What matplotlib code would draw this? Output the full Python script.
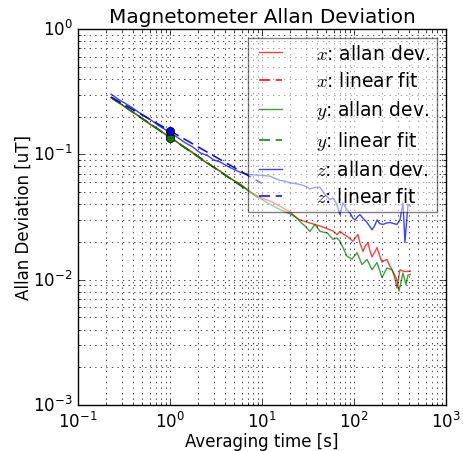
import matplotlib
matplotlib.use("Agg")
import matplotlib.pyplot as plt
import numpy as np

plt.style.use('classic')

# ---- data ----
tau_x = [0.229, 0.28, 0.367, 0.45, 0.607, 0.75, 1.0, 1.2, 1.456, 1.75, 2.12, 2.6,
         3.49, 4.4, 5.77, 7.41, 9.51, 12.2, 15.7, 20.2, 24.0, 25.9, 29, 33.2, 37.7,
         42.7, 48, 54.8, 59, 65.3, 70.4, 75.9, 83.9, 90.5, 97.5, 102.6, 110.5, 116.2,
         125.3, 132, 141.9, 149, 157, 167, 177.9, 190, 201.5, 214, 228.4, 243, 259,
         276, 293, 316, 341, 367, 410]
adev_x = [0.284, 0.258, 0.224, 0.203, 0.173, 0.157, 0.136, 0.125, 0.112, 0.103, 0.093,
          0.084, 0.0735, 0.065, 0.058, 0.0505, 0.0455, 0.0424, 0.0385, 0.0346, 0.031,
          0.030, 0.0292, 0.0283, 0.0275, 0.0268, 0.026, 0.025, 0.0245, 0.0229, 0.0243,
          0.0232, 0.0222, 0.0212, 0.0203, 0.0215, 0.0229, 0.0195, 0.0168, 0.0185,
          0.0197, 0.017, 0.0152, 0.0165, 0.018, 0.0155, 0.0138, 0.0142, 0.0145, 0.013,
          0.012, 0.0105, 0.0086, 0.012, 0.0117, 0.0116, 0.0117]

tau_y = [0.229, 0.28, 0.367, 0.45, 0.607, 0.75, 1.0, 1.2, 1.456, 1.75, 2.12, 2.6,
         3.49, 4.4, 5.77, 7.41, 9.51, 12.2, 15.7, 20.2, 24, 25.9, 29, 33.2, 37.7, 42.7,
         48, 50.9, 59.1, 65, 70.4, 76, 83.9, 95.1, 107.9, 122.2, 138.4, 157, 177.9,
         201.5, 228.4, 259, 293, 308, 341, 367, 386, 410]
adev_y = [0.283, 0.257, 0.225, 0.204, 0.175, 0.158, 0.137, 0.125, 0.113, 0.104, 0.093,
          0.084, 0.0735, 0.065, 0.0575, 0.05, 0.0445, 0.040, 0.0363, 0.0335, 0.031,
          0.029, 0.027, 0.0243, 0.0276, 0.0243, 0.0238, 0.0237, 0.021, 0.0215, 0.0203,
          0.018, 0.0154, 0.0146, 0.0164, 0.0132, 0.0145, 0.012, 0.0137, 0.0104, 0.0124,
          0.012, 0.010, 0.0081, 0.0113, 0.0091, 0.0109, 0.011]

tau_z = [0.229, 0.28, 0.367, 0.45, 0.607, 0.75, 1.0, 1.2, 1.456, 1.75, 2.12, 2.6, 3.0,
         3.49, 4.4, 5.77, 6.5, 7.41, 8.5, 9.51, 11, 12.2, 14, 15.7, 18, 20.2, 23, 25.9,
         30, 33.2, 38, 42.7, 48, 54.8, 59, 65, 70.4, 75.9, 83.9, 90.5, 97, 102.6, 110,
         116.2, 125, 138.4, 157, 168, 177.9, 190, 206.5, 225, 246, 270, 293, 316, 341,
         358, 386, 410]
adev_z = [0.302, 0.272, 0.242, 0.218, 0.19, 0.17, 0.149, 0.137, 0.124, 0.115, 0.103,
          0.097, 0.09, 0.087, 0.079, 0.072, 0.070, 0.069, 0.0685, 0.068, 0.0675, 0.067,
          0.064, 0.062, 0.061, 0.059, 0.0585, 0.0575, 0.0555, 0.053, 0.0545, 0.0545,
          0.048, 0.0435, 0.045, 0.040, 0.033, 0.041, 0.036, 0.034, 0.031, 0.030, 0.032,
          0.033, 0.031, 0.0286, 0.025, 0.027, 0.030, 0.028, 0.0276, 0.0283, 0.0286,
          0.028, 0.0276, 0.030, 0.041, 0.0198, 0.040, 0.0385]

fit_tau = [0.229, 10.0]
fit_coef = {'x': 0.137, 'y': 0.136, 'z': 0.154}
fit_slope = {'x': -0.5, 'y': -0.5, 'z': -0.42}
axis_colors = {'x': 'r', 'y': 'g', 'z': 'b'}
series = {'x': (tau_x, adev_x), 'y': (tau_y, adev_y), 'z': (tau_z, adev_z)}

fig = plt.figure(figsize=(4.63, 4.52), dpi=100, facecolor='white')
ax = fig.add_axes([78/463, 46/452, (446-78)/463, (406-30)/452])

for k in ['x', 'y', 'z']:
    t, a = series[k]
    c = axis_colors[k]
    ax.plot(t, a, color=c, alpha=0.75, lw=1.0, label='$%s$: allan dev.' % k)
    ft = np.array(fit_tau)
    ax.plot(ft, fit_coef[k] * ft ** fit_slope[k], '--', color=c, lw=1.1,
            dashes=(8, 4), label='$%s$: linear fit' % k)
for k in ['x', 'y', 'z']:
    ax.plot([1.0], [fit_coef[k]], 'o', color=axis_colors[k], markersize=6,
            markeredgecolor='k')

ax.set_xscale('log')
ax.set_yscale('log')
ax.set_xlim(0.1, 1000)
ax.set_ylim(1e-3, 1)
ax.grid(True, which='both')
ax.tick_params(axis='x', which='major', pad=4)
ax.set_title('Magnetometer Allan Deviation', fontsize=14.4)
ax.set_xlabel('Averaging time [s]', fontsize=12, labelpad=1)
ax.set_ylabel('Allan Deviation [uT]', fontsize=12, labelpad=0)
leg = ax.legend(loc='upper right', framealpha=0.5, fontsize=13.5,
                handlelength=1.8, handletextpad=1.55, labelspacing=0.43,
                borderpad=0.3, borderaxespad=0.5)

fig.savefig('out.png', dpi=100, facecolor='white')
